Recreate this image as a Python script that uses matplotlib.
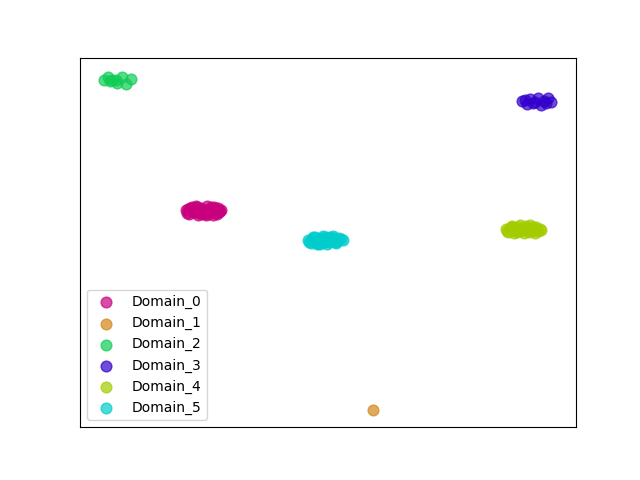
import matplotlib
matplotlib.use("Agg")
import matplotlib.pyplot as plt

domains = ["Domain_0", "Domain_1", "Domain_2", "Domain_3", "Domain_4", "Domain_5"]
colors = ["#c8007e", "#d4861a", "#10cc55", "#3300cc", "#a3cc00", "#00cccc"]

d0_x = [186, 189, 192, 195, 198, 201, 204, 207, 210, 213, 216, 219, 221, 190, 196, 202, 208, 214, 200, 205,
        187, 191, 194, 197, 199, 203, 206, 209, 211, 215, 218, 220, 193, 212, 217, 188]
d0_y = [270, 266, 273, 268, 265, 272, 267, 274, 269, 265, 271, 268, 270, 272, 274, 266, 266, 273, 270, 269,
        267, 269, 271, 273, 267, 270, 265, 271, 273, 267, 272, 269, 268, 268, 266, 271]

d1_x = [373]
d1_y = [70]

d2_x = [104, 108, 112, 117, 122, 126, 131, 116, 110]
d2_y = [400, 403, 400, 397, 403, 396, 401, 400, 399]

d3_x = [522, 527, 530, 535, 538, 541, 544, 548, 551, 533, 525, 546]
d3_y = [379, 376, 381, 378, 382, 375, 379, 382, 378, 377, 380, 377]

d4_x = [506, 508, 512, 516, 520, 524, 528, 532, 536, 540, 514, 522, 530, 518,
        507, 510, 513, 517, 521, 526, 529, 534, 538, 541, 511, 525, 533, 519, 527, 535]
d4_y = [251, 248, 254, 250, 255, 247, 252, 249, 253, 251, 247, 250, 255, 253,
        249, 252, 250, 248, 251, 254, 248, 251, 249, 250, 253, 250, 253, 249, 251, 247]

d5_x = [308, 311, 315, 319, 323, 327, 331, 335, 339, 343, 317, 325, 333, 321,
        309, 312, 314, 318, 322, 326, 329, 334, 337, 341, 313, 328, 336, 320, 330, 324]
d5_y = [240, 237, 243, 239, 244, 236, 241, 238, 242, 240, 236, 240, 244, 242,
        238, 241, 239, 237, 240, 243, 238, 242, 239, 241, 243, 240, 237, 236, 243, 238]

xs = [d0_x, d1_x, d2_x, d3_x, d4_x, d5_x]
ys = [d0_y, d1_y, d2_y, d3_y, d4_y, d5_y]

fig, ax = plt.subplots(figsize=(6.4, 4.8), dpi=100)
for name, c, x, y in zip(domains, colors, xs, ys):
    ax.scatter(x, y, s=60, c=c, alpha=0.7, label=name)
ax.set_xlim(80, 576)
ax.set_ylim(53, 422)
ax.set_xticks([])
ax.set_yticks([])
ax.legend(loc="lower left")
fig.savefig("out.png")
